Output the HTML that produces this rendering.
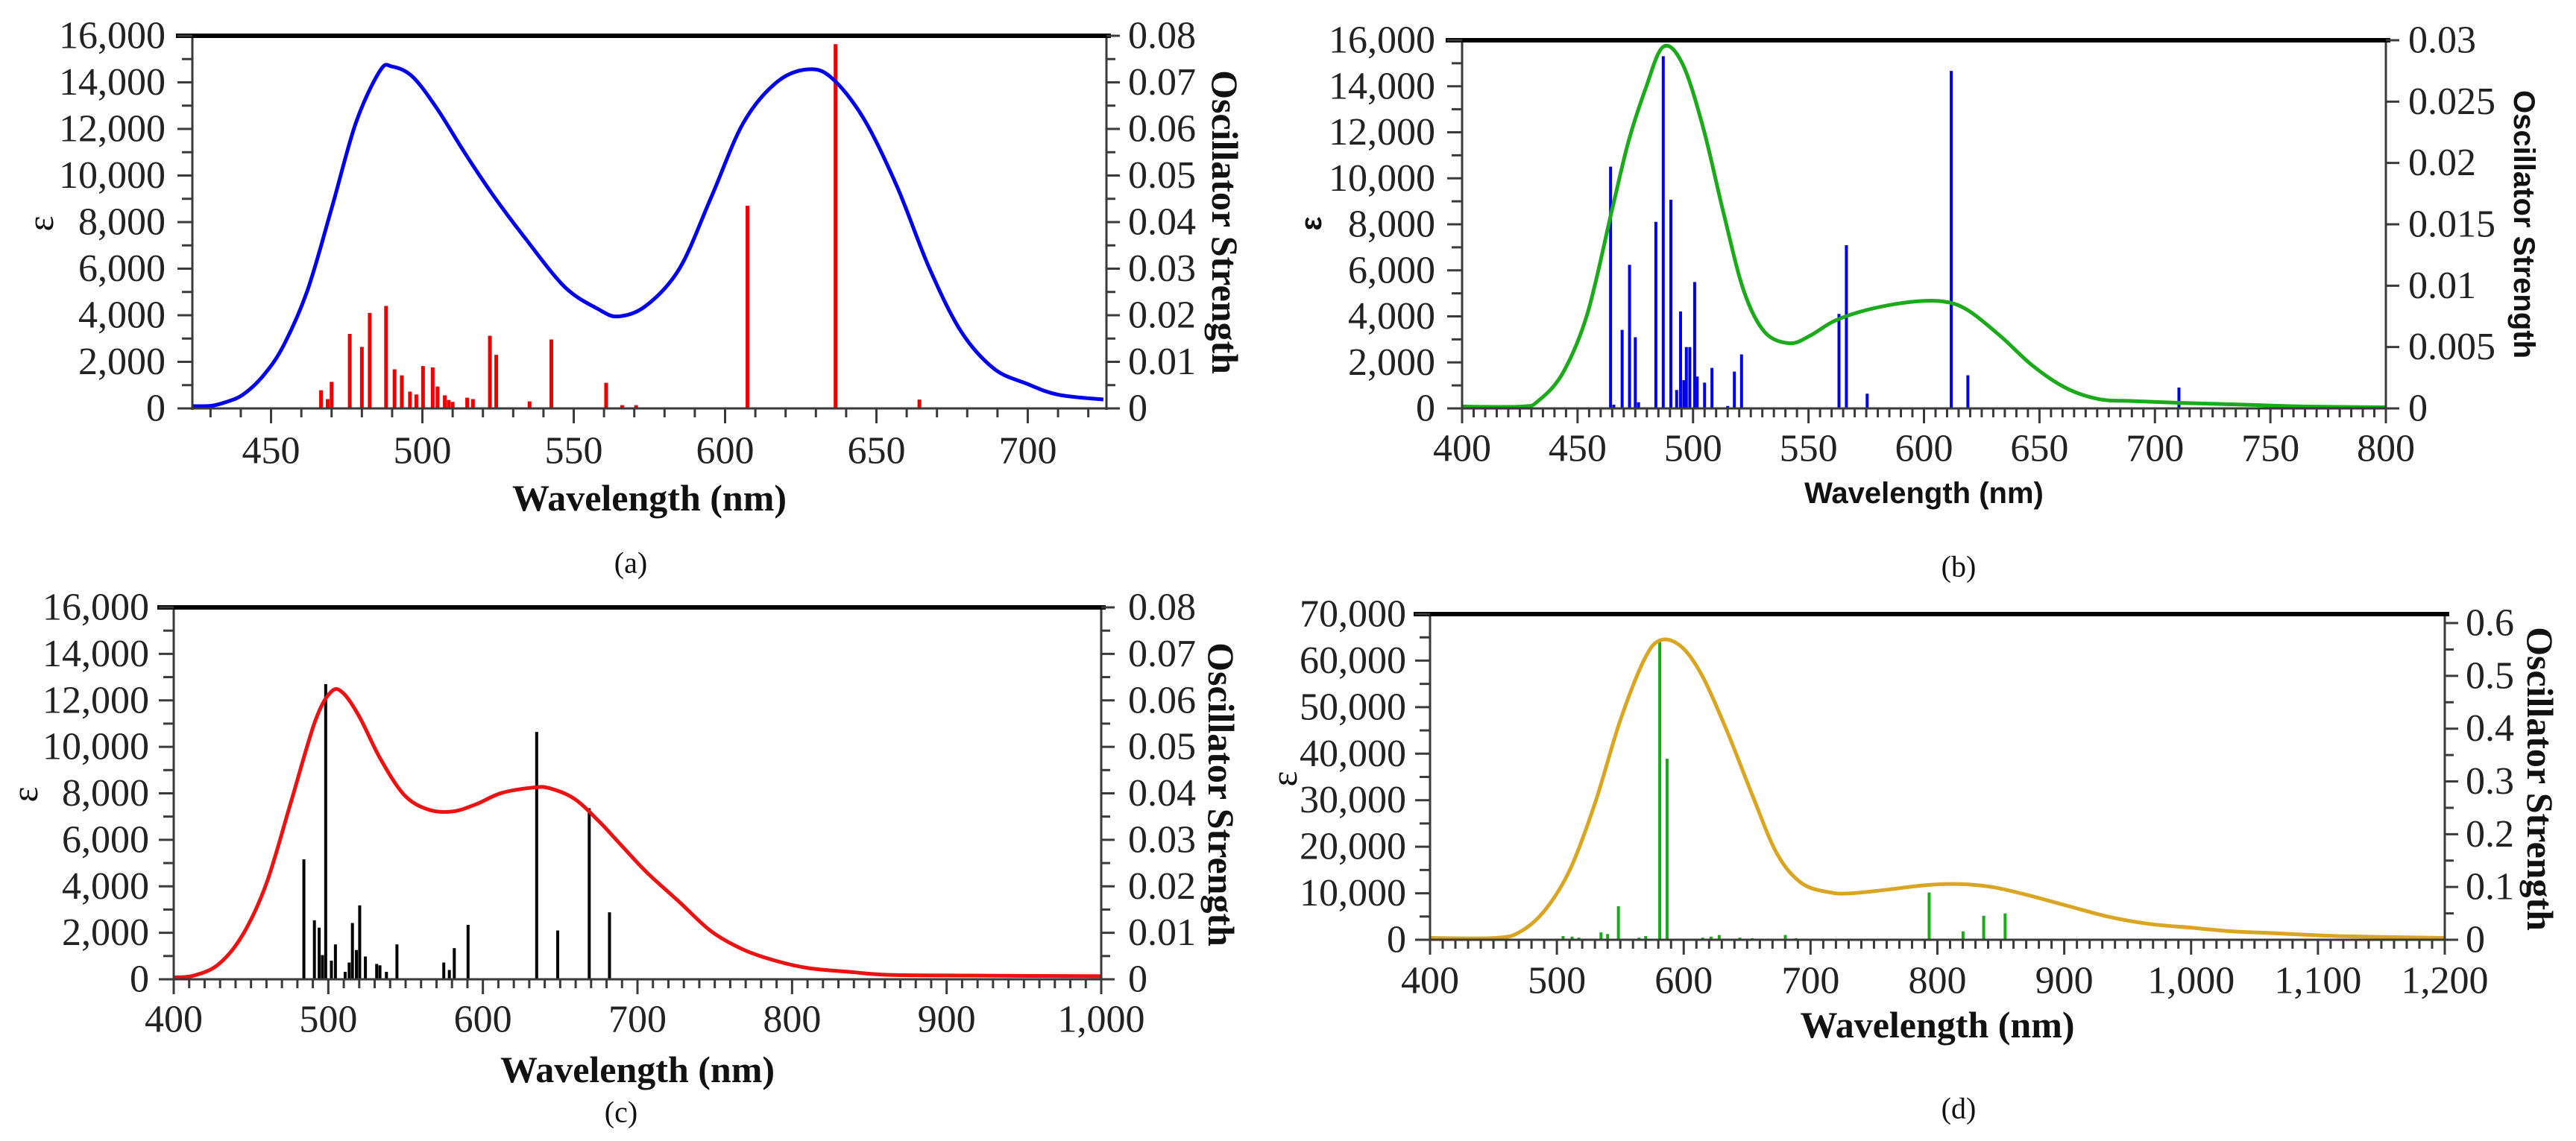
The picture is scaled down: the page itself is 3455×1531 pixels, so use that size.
<!DOCTYPE html>
<html><head><meta charset="utf-8"><style>
html,body{margin:0;padding:0;background:#fff;}
svg{display:block;}
.tk{font-family:"Liberation Serif",serif;font-size:52px;fill:#222;}
.ti{font-family:"Liberation Serif",serif;font-size:50px;font-weight:bold;fill:#111;}
.tis{font-family:"Liberation Sans",sans-serif;font-size:40px;font-weight:bold;fill:#111;}
.pl{font-family:"Liberation Serif",serif;font-size:40px;fill:#111;}
.ep{font-family:"Liberation Serif",serif;font-size:50px;fill:#111;}
</style></head><body>
<svg id="fig" xmlns="http://www.w3.org/2000/svg" width="3455" height="1531" viewBox="0 0 3455 1531"></svg>
<script>
// ---- Panel (a) data ----
const A_curveNm=[424,430,435,440.7,447.3,454,462,470,478,486,490,496.7,504.7,514,523,534,547,558,564.7,574,585,595.4,606,617,627.4,635.4,646,656.8,667.5,678,688.8,699.5,710,725];
const A_curveEps=[100,110,270,590,1390,2670,5060,8580,12250,14500,14680,14250,12900,10970,9220,7300,5220,4270,3950,4420,6020,9060,12250,14000,14560,14170,12400,9530,6020,3300,1710,1070,590,380];
const A_stickNm=[466.5,468.7,470,476,480,482.6,488,490.8,493.2,495.9,498,500.2,503.4,505,507.4,508.7,510,514.8,516.7,522.3,524.4,535.4,542.6,560.7,566,570.6,607.4,636.5,664.2];
const A_stickF=[0.0039,0.002,0.0057,0.016,0.0132,0.0205,0.022,0.0084,0.0071,0.0036,0.003,0.0091,0.0088,0.0047,0.0028,0.0018,0.0014,0.0023,0.002,0.0156,0.0115,0.0015,0.0148,0.0055,0.0007,0.0007,0.0435,0.0782,0.0019];
const A_xTicks=[450,500,550,600,650,700];
const A_yTicks=[0,2000,4000,6000,8000,10000,12000,14000,16000];
const A_fTicks=["0","0.01","0.02","0.03","0.04","0.05","0.06","0.07","0.08"];
// ---- Panel (b) data ----
const B_curveNm=[400,425.7,432.9,443.6,454.3,465,472,479.3,487,495.4,504.3,513.2,522,531,541.8,550.7,561.4,575.7,593.6,607.9,618.6,632.9,647,661.4,675.7,690,711.4,740,765,800];
const B_curveEps=[80,80,320,1540,4130,8660,11580,13850,15710,14980,12230,8500,5100,3320,2830,3160,3810,4290,4620,4650,4290,3160,1860,890,400,320,240,160,80,50];
const B_stickNm=[464.3,465.7,469.3,472.5,475,476.4,483.9,487.1,490.4,492.9,494.6,496,497.1,498.6,500.7,501.8,505,508.2,515,517.9,521,563.2,566.4,575.4,611.8,619,710.4];
const B_stickF=[0.0197,0.0003,0.0064,0.0117,0.0058,0.0005,0.0152,0.0287,0.017,0.0015,0.0079,0.0023,0.005,0.005,0.0103,0.0026,0.0021,0.0033,0.0002,0.003,0.0044,0.0077,0.0133,0.0012,0.0275,0.0027,0.0017];
const B_xTicks=[400,450,500,550,600,650,700,750,800];
const B_yTicks=[0,2000,4000,6000,8000,10000,12000,14000,16000];
const B_fTicks=["0","0.005","0.01","0.015","0.02","0.025","0.03"];
// ---- Panel (c) data ----
const C_curveNm=[400,413,428.8,444.5,460,475.8,491.5,502,509.8,520.3,533.4,549,564.7,580.4,596,611.8,632.7,643,658.9,674.6,690.3,706,727,747.8,768.7,789.7,810.6,836.7,862.9,915,1000];
const C_curveEps=[80,160,635,1900,4130,7620,11110,12380,12300,11270,9520,7940,7300,7220,7540,8010,8250,8220,7780,6830,5710,4600,3330,2060,1270,790,480,320,190,160,130];
const C_stickNm=[484.2,491,494.1,496.2,498.3,502,504.6,510.9,513.5,515.6,518.2,520.3,524,531.3,533.4,537.6,544.4,574.7,578.3,581.5,590.4,634.8,648.4,668.8,681.9];
const C_stickF=[0.0258,0.0127,0.0111,0.0052,0.0635,0.004,0.0075,0.0016,0.0036,0.0121,0.0063,0.0159,0.0049,0.0033,0.003,0.0016,0.0075,0.0036,0.002,0.0067,0.0117,0.0532,0.0105,0.0368,0.0144];
const C_xTicks=[400,500,600,700,800,900,1000];
const C_yTicks=[0,2000,4000,6000,8000,10000,12000,14000,16000];
const C_fTicks=["0","0.01","0.02","0.03","0.04","0.05","0.06","0.07","0.08"];
// ---- Panel (d) data ----
const D_curveNm=[400,452,471.7,491.2,510.7,530.3,549.8,569.4,582.4,598.7,615,634.5,654,673.6,693.2,716,732.2,758.3,790.9,817,843,869,901.6,934.2,966.8,999.3,1031.9,1064.5,1116.6,1200];
const D_curveEps=[400,400,1820,6580,15300,29570,47000,60500,64450,62870,56520,44630,31150,18470,12130,10150,9990,10700,11730,11970,11340,9750,7370,4990,3410,2620,1820,1430,790,400];
const D_stickNm=[504.9,512,517.3,534.8,540,548.5,564.8,570,581.1,586.9,615,621.5,628,644.3,654.1,680.1,688.6,793.5,820.2,836.5,853.4];
const D_stickF=[0.007,0.006,0.004,0.014,0.011,0.0636,0.004,0.007,0.565,0.343,0.004,0.006,0.009,0.004,0.003,0.009,0.003,0.0895,0.016,0.0455,0.05];
const D_xTicks=[400,500,600,700,800,900,1000,1100,1200];
const D_yTicks=[0,10000,20000,30000,40000,50000,60000,70000];
const D_fTicks=["0","0.1","0.2","0.3","0.4","0.5","0.6"];

const NS="http://www.w3.org/2000/svg";
const svg=document.getElementById('fig');
function mk(tag,attrs,parent){const e=document.createElementNS(NS,tag);for(const k in attrs)e.setAttribute(k,attrs[k]);(parent||svg).appendChild(e);return e;}
function fmt(v){return v.toLocaleString('en-US');}
function smooth(pts){let d='M'+pts[0][0].toFixed(1)+','+pts[0][1].toFixed(1);
 for(let i=0;i<pts.length-1;i++){const p0=pts[Math.max(0,i-1)],p1=pts[i],p2=pts[i+1],p3=pts[Math.min(pts.length-1,i+2)];
  const c1x=p1[0]+(p2[0]-p0[0])/6,c1y=p1[1]+(p2[1]-p0[1])/6,c2x=p2[0]-(p3[0]-p1[0])/6,c2y=p2[1]-(p3[1]-p1[1])/6;
  d+=' C'+c1x.toFixed(1)+','+c1y.toFixed(1)+' '+c2x.toFixed(1)+','+c2y.toFixed(1)+' '+p2[0].toFixed(1)+','+p2[1].toFixed(1);}
 return d;}

function panel(cfg){
 const g=mk('g',{});
 
 
 const {L,R,T,B,x0,x1,ymax,fmax}=cfg;
 const X=v=>L+(v-x0)/(x1-x0)*(R-L);
 const Y=v=>B-v/ymax*(B-T);
 const F=v=>B-v/fmax*(B-T);
 const axc='#3a3a3a';
 for(let i=0;i<cfg.sn.length;i++){
  const s=mk('rect',{x:X(cfg.sn[i])-cfg.sw/2,y:F(cfg.sf[i]),width:cfg.sw,height:B-F(cfg.sf[i]),fill:cfg.sc},g);
  
  
 }
 const pts=cfg.cn.map((n,i)=>[X(n),Y(cfg.ce[i])]);
 const c=mk('path',{d:smooth(pts),fill:'none',stroke:cfg.cc,'stroke-width':5,'stroke-linejoin':'round'},g);
 
 
 mk('line',{x1:L,y1:T,x2:L,y2:B+2,stroke:axc,'stroke-width':3},g);
 mk('line',{x1:R,y1:T,x2:R,y2:B+2,stroke:axc,'stroke-width':3},g);
 mk('line',{x1:L,y1:B,x2:R,y2:B,stroke:axc,'stroke-width':3},g);
 const top=mk('line',{x1:L-22,y1:T,x2:R+6,y2:T,stroke:'#000','stroke-width':6},g);
 
 
 for(let v=x0-(x0%cfg.xm)+ (x0%cfg.xm?cfg.xm:0); v<=x1; v+=cfg.xm){
  const major=cfg.xt.indexOf(v)>=0;
  mk('line',{x1:X(v),y1:B,x2:X(v),y2:B+(major?20:12),stroke:axc,'stroke-width':3},g);
 }
 cfg.xt.forEach(v=>{const t=mk('text',{x:X(v),y:cfg.xly,'text-anchor':'middle','dominant-baseline':'central',class:'tk'},g);t.textContent=fmt(v);
  });
 const ystep=cfg.yt[1]-cfg.yt[0];
 for(let v=0; v<=ymax+1; v+=ystep/2){
  const major=Math.abs(v/ystep-Math.round(v/ystep))<1e-6;
  mk('line',{x1:L,y1:Y(v),x2:L-(major?20:14),y2:Y(v),stroke:axc,'stroke-width':3},g);
 }
 cfg.yt.forEach(v=>{const t=mk('text',{x:cfg.ylx,y:Y(v),'text-anchor':'end','dominant-baseline':'central',class:'tk'},g);t.textContent=fmt(v);
  });
 const fv=cfg.ft.map(Number);const fstep=fv[1]-fv[0];
 for(let v=0; v<=fmax+1e-9; v+=fstep/2){
  const major=Math.abs(v/fstep-Math.round(v/fstep))<1e-6;
  if(!cfg.fminor && !major) continue;
  mk('line',{x1:R,y1:F(v),x2:R+(major?18:12),y2:F(v),stroke:axc,'stroke-width':3},g);
 }
 cfg.ft.forEach(s=>{const t=mk('text',{x:cfg.flx,y:F(Number(s)),'text-anchor':'start','dominant-baseline':'central',class:'tk'},g);t.textContent=s;
  });
 const xt=mk('text',{x:(L+R)/2,y:cfg.xty,'text-anchor':'middle','dominant-baseline':'central',class:cfg.sans?'tis':'ti'},g);xt.textContent='Wavelength (nm)';
 
 const et=mk('text',{x:cfg.ep[0],y:cfg.ep[1],'text-anchor':'middle','dominant-baseline':'central',class:cfg.sans?'tis':'ep',transform:`rotate(-90 ${cfg.ep[0]} ${cfg.ep[1]})`},g);et.textContent='ε';
 
 const rt=mk('text',{x:cfg.rp[0],y:cfg.rp[1],'text-anchor':'middle','dominant-baseline':'central',class:cfg.sans?'tis':'ti',transform:`rotate(90 ${cfg.rp[0]} ${cfg.rp[1]})`},g);rt.textContent='Oscillator Strength';
 
 const pl=mk('text',{x:cfg.pp[0],y:cfg.pp[1],'text-anchor':'middle','dominant-baseline':'central',class:'pl'},g);pl.textContent='('+cfg.id+')';
 
}

panel({id:'a',L:258,R:1484,T:48,B:548,x0:424,x1:726,ymax:16000,fmax:0.08,xm:10,fminor:true,
 cn:A_curveNm,ce:A_curveEps,sn:A_stickNm,sf:A_stickF,xt:A_xTicks,yt:A_yTicks,ft:A_fTicks,
 cc:'#0000ee',sc:'#ee0000',sw:5,xly:605,ylx:222,flx:1513,xty:668,ep:[54,300],rp:[1643,298],pp:[846,755]});
panel({id:'b',L:1961,R:3200,T:54,B:548,x0:400,x1:800,ymax:16000,fmax:0.03,xm:5,fminor:false,sans:true,
 cn:B_curveNm,ce:B_curveEps,sn:B_stickNm,sf:B_stickF,xt:B_xTicks,yt:B_yTicks,ft:B_fTicks,
 cc:'#1aaa1a',sc:'#0000ee',sw:4,xly:602,ylx:1925,flx:3230,xty:662,ep:[1759,300],rp:[3385,301],pp:[2627,760]});
panel({id:'c',L:233,R:1477,T:815,B:1314,x0:400,x1:1000,ymax:16000,fmax:0.08,xm:10,fminor:true,
 cn:C_curveNm,ce:C_curveEps,sn:C_stickNm,sf:C_stickF,xt:C_xTicks,yt:C_yTicks,ft:C_fTicks,
 cc:'#ee1111',sc:'#000000',sw:4,xly:1368,ylx:200,flx:1513,xty:1435,ep:[33,1066],rp:[1638,1066],pp:[833,1492]});
panel({id:'d',L:1918,R:3279,T:824,B:1261,x0:400,x1:1200,ymax:70000,fmax:0.617,xm:10,fminor:true,
 cn:D_curveNm,ce:D_curveEps,sn:D_stickNm,sf:D_stickF,xt:D_xTicks,yt:D_yTicks,ft:D_fTicks,
 cc:'#daa520',sc:'#1aaa1a',sw:4,xly:1316,ylx:1886,flx:3307,xty:1375,ep:[1722,1045],rp:[3407,1045],pp:[2627,1487]});
</script>
</body></html>
